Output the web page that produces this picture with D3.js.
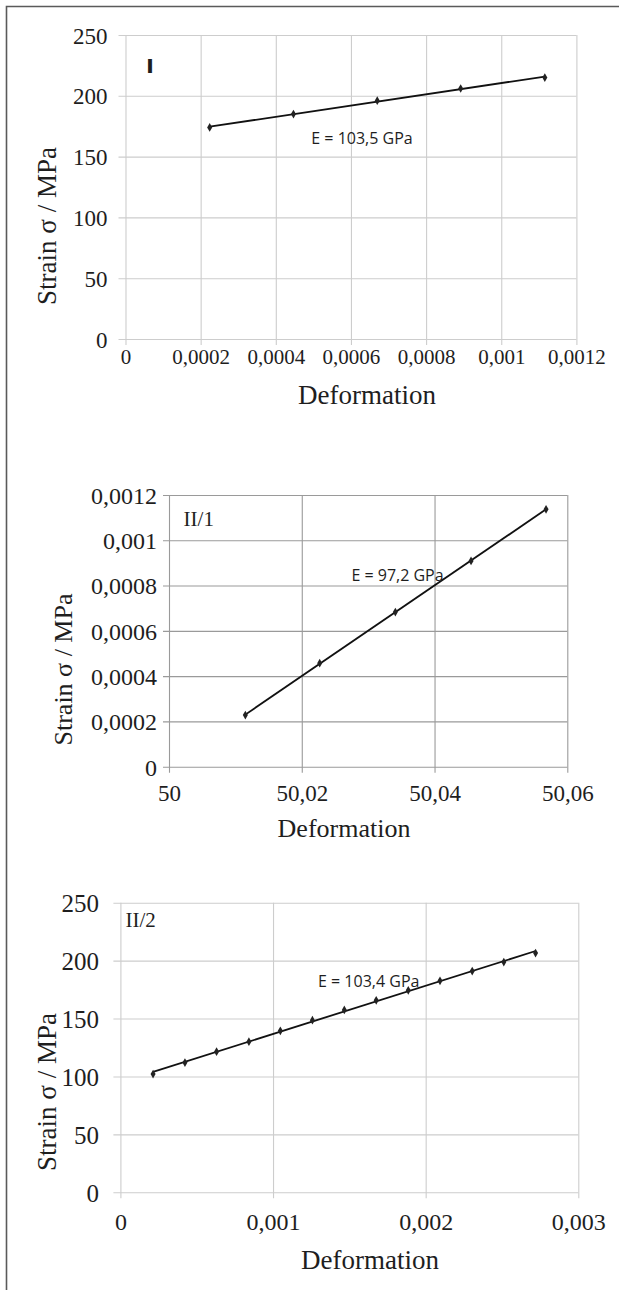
<!DOCTYPE html>
<html>
<head>
<meta charset="utf-8">
<script src="https://cdn.jsdelivr.net/npm/d3@7"></script>
<style>
  body { margin: 0; background: #fff; }
  svg { display: block; }
</style>
</head>
<body>
<svg id="fig" width="619" height="1290"></svg>
<script>
// ---- Measured values: specimen I ----
const strainI = [0.000224, 0.000447, 0.000670, 0.000892, 0.001116];
const stressI = [174, 185, 196, 206, 215];
const xTicksI = [0, 0.0002, 0.0004, 0.0006, 0.0008, 0.001, 0.0012];
const yTicksI = [0, 50, 100, 150, 200, 250];

// ---- Measured values: specimen II/1 ----
const strainII1 = [50.0115, 50.0227, 50.0341, 50.0455, 50.0568];
const stressII1 = [0.000228, 0.000457, 0.000683, 0.000909, 0.001137];
const xTicksII1 = [50, 50.02, 50.04, 50.06];
const yTicksII1 = [0, 0.0002, 0.0004, 0.0006, 0.0008, 0.001, 0.0012];

// ---- Measured values: specimen II/2 ----
const strainII2 = [0.000214, 0.000423, 0.000630, 0.000842, 0.001048, 0.001258, 0.001467,
                   0.001676, 0.001886, 0.002094, 0.002305, 0.002512, 0.002720];
const stressII2 = [102.1, 112.0, 121.4, 130.0, 139.4, 148.6, 157.4,
                   165.7, 174.4, 182.6, 191.0, 198.8, 206.5];
const xTicksII2 = [0, 0.001, 0.002, 0.003];
const yTicksII2 = [0, 50, 100, 150, 200, 250];

// ---- Text ----
const panelTags = ["I", "II/1", "II/2"];
const modulusNotes = ["E = 103,5 GPa", "E = 97,2 GPa", "E = 103,4 GPa"];
const xTitle = "Deformation";
const yTitle = "Strain σ / MPa";

// ---- Layout of each panel (pixels) ----
const layouts = [
  { left: 125.5, right: 576.4, top: 35, bottom: 339, grid: "#cdcdcd",
    yTick: { size: 23, len: 7, right: 107.5 }, xTick: { size: 21, cy: 357, len: 6 },
    xLab: { x: 367, y: 395, size: 27 }, yLab: { x: 46.6, y: 226, size: 27 },
    tag: { x: 150, y: 66, size: 20, sans: true }, note: { x: 362, y: 138 } },
  { left: 169, right: 567.3, top: 495, bottom: 766.7, grid: "#9a9a9a",
    yTick: { size: 24, len: 6, right: 157 }, xTick: { size: 23, cy: 793, len: 6 },
    xLab: { x: 344, y: 828, size: 26 }, yLab: { x: 63, y: 669.5, size: 26 },
    tag: { x: 183.6, y: 519, size: 21, sans: false }, note: { x: 397.5, y: 575 } },
  { left: 120.4, right: 578.3, top: 902.7, bottom: 1192.3, grid: "#cdcdcd",
    yTick: { size: 25, len: 7, right: 99 }, xTick: { size: 24, cy: 1222, len: 6 },
    xLab: { x: 370, y: 1260, size: 27 }, yLab: { x: 46.6, y: 1092, size: 27 },
    tag: { x: 125.5, y: 920, size: 21, sans: false }, note: { x: 368.7, y: 981 } }
];

const panels = [
  { x: strainI, y: stressI, xt: xTicksI, yt: yTicksI },
  { x: strainII1, y: stressII1, xt: xTicksII1, yt: yTicksII1 },
  { x: strainII2, y: stressII2, xt: xTicksII2, yt: yTicksII2 }
];

const SERIF = "'Liberation Serif', 'Times New Roman', serif";
const SANS = "'Open Sans', 'Noto Sans', sans-serif";
const INK = "#1e1e1e";
const fmt = v => String(+v.toPrecision(10)).replace(".", ",");

const svg = d3.select("#fig");

// page frame
svg.append("path")
  .attr("d", "M6.5,1290 V6.5 H619")
  .attr("fill", "none").attr("stroke", "#5a5a5a").attr("stroke-width", 1.6);

// least-squares line through the measured points
function fit(xs, ys) {
  const mx = d3.mean(xs), my = d3.mean(ys);
  const sxy = d3.sum(xs, (x, i) => (x - mx) * (ys[i] - my));
  const sxx = d3.sum(xs, x => (x - mx) ** 2);
  const b = sxy / sxx;
  return x => my + b * (x - mx);
}

panels.forEach((p, k) => {
  const L = layouts[k];
  const w = L.right - L.left, h = L.bottom - L.top;
  const xs = d3.scaleLinear().domain(d3.extent(p.xt)).range([L.left, L.right]);
  const ys = d3.scaleLinear().domain(d3.extent(p.yt)).range([L.bottom, L.top]);
  const g = svg.append("g");

  // vertical grid + x ticks
  const gx = g.append("g").attr("transform", `translate(0,${L.bottom})`)
    .call(d3.axisBottom(xs).tickValues(p.xt).tickFormat(fmt)
      .tickSizeInner(0).tickSizeOuter(0));
  gx.select(".domain").remove();
  gx.selectAll(".tick line").remove();
  gx.selectAll(".tick").append("line")
    .attr("y1", L.xTick.len).attr("y2", -h)
    .attr("stroke", L.grid).attr("stroke-width", 1.1);
  gx.selectAll(".tick text")
    .attr("y", L.xTick.cy - L.bottom).attr("dy", "0.35em")
    .attr("fill", INK).style("font-family", SERIF).style("font-size", L.xTick.size + "px");

  // horizontal grid + y ticks
  const gy = g.append("g").attr("transform", `translate(${L.left},0)`)
    .call(d3.axisLeft(ys).tickValues(p.yt).tickFormat(fmt)
      .tickSizeInner(0).tickSizeOuter(0));
  gy.select(".domain").remove();
  gy.selectAll(".tick line").remove();
  gy.selectAll(".tick").append("line")
    .attr("x1", -L.yTick.len).attr("x2", w)
    .attr("stroke", L.grid).attr("stroke-width", 1.1);
  gy.selectAll(".tick text")
    .attr("x", L.yTick.right - L.left).attr("dy", "0.35em")
    .attr("text-anchor", "end")
    .attr("fill", INK).style("font-family", SERIF).style("font-size", L.yTick.size + "px");

  // regression line
  const f = fit(p.x, p.y);
  const [x0, x1] = d3.extent(p.x);
  g.append("path")
    .attr("d", d3.line().x(d => xs(d)).y(d => ys(f(d)))([x0, x1]))
    .attr("fill", "none").attr("stroke", "#111").attr("stroke-width", 1.8);

  // measured points
  const pts = p.x.map((x, i) => [x, p.y[i]]);
  g.selectAll(".pt").data(pts).join("path")
    .attr("class", "pt")
    .attr("transform", d => `translate(${xs(d[0])},${ys(d[1])})`)
    .attr("d", d3.symbol(d3.symbolDiamond, 22))
    .attr("fill", "#222");

  // panel tag
  g.append("text")
    .attr("x", L.tag.x).attr("y", L.tag.y).attr("dy", "0.35em")
    .attr("text-anchor", L.tag.sans ? "middle" : "start")
    .attr("fill", INK)
    .style("font-family", L.tag.sans ? SANS : SERIF)
    .style("font-weight", L.tag.sans ? 800 : 400)
    .style("font-size", L.tag.size + "px")
    .text(panelTags[k]);

  // modulus note
  g.append("text")
    .attr("x", L.note.x).attr("y", L.note.y).attr("dy", "0.35em")
    .attr("text-anchor", "middle").attr("fill", INK)
    .style("font-family", SANS).style("font-size", "16px")
    .text(modulusNotes[k]);

  // axis titles
  g.append("text")
    .attr("x", L.xLab.x).attr("y", L.xLab.y).attr("dy", "0.35em")
    .attr("text-anchor", "middle").attr("fill", INK)
    .style("font-family", SERIF).style("font-size", L.xLab.size + "px")
    .text(xTitle);
  g.append("text")
    .attr("transform", `translate(${L.yLab.x},${L.yLab.y}) rotate(-90)`)
    .attr("dy", "0.35em")
    .attr("text-anchor", "middle").attr("fill", INK)
    .style("font-family", SERIF).style("font-size", L.yLab.size + "px")
    .text(yTitle);
});
</script>
</body>
</html>
